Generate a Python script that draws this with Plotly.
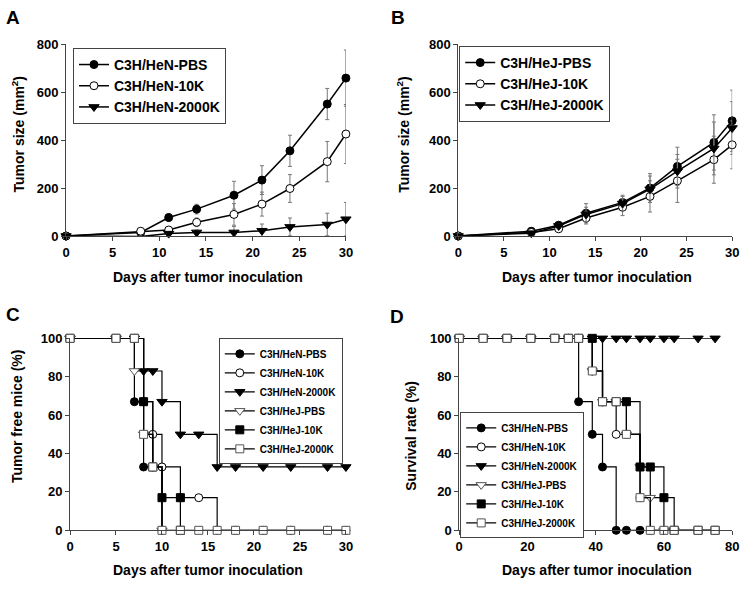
import plotly.graph_objects as go

# ---------------- Data ----------------
# Panel A (C3H/HeN tumor growth)
days_A = [0, 8, 11, 14, 18, 21, 24, 28, 30]
hen_pbs = [0, 15, 77, 112, 170, 233, 355, 550, 658]
hen_pbs_err = [0, 5, 15, 20, 58, 60, 65, 65, 117]
hen_10k = [0, 20, 25, 57, 90, 133, 198, 310, 425]
hen_10k_err = [0, 5, 10, 18, 45, 50, 58, 84, 123]
hen_2000k = [0, -2, 10, 15, 15, 22, 38, 48, 70]
hen_2000k_err = [0, 3, 8, 10, 25, 28, 37, 47, 70]

# Panel B (C3H/HeJ tumor growth)
days_B = [0, 8, 11, 14, 18, 21, 24, 28, 30]
hej_pbs = [0, 20, 45, 95, 140, 200, 290, 390, 480]
hej_pbs_err = [0, 5, 10, 40, 30, 60, 80, 115, 128]
hej_10k = [0, 15, 30, 75, 120, 165, 230, 318, 380]
hej_10k_err = [0, 5, 10, 25, 35, 65, 90, 98, 100]
hej_2000k = [0, 12, 42, 90, 135, 195, 270, 365, 450]
hej_2000k_err = [0, 5, 10, 30, 30, 55, 70, 110, 110]

# Panel C (tumor free mice, %)
c_hen_pbs_x = [0, 5, 7, 8, 10]
c_hen_pbs_y = [100, 100, 67, 33, 0]
c_hen_10k_x = [0, 5, 7, 8, 9, 10, 12, 14, 16, 18, 21, 24, 28, 30]
c_hen_10k_y = [100, 100, 100, 67, 50, 33, 17, 17, 0, 0, 0, 0, 0, 0]
c_hen_2000k_x = [0, 5, 7, 8, 9, 10, 12, 14, 16, 18, 21, 24, 28, 30]
c_hen_2000k_y = [100, 100, 100, 83, 83, 67, 50, 50, 33, 33, 33, 33, 33, 33]
c_hej_pbs_x = [0, 5, 7, 8, 9, 10]
c_hej_pbs_y = [100, 100, 83, 50, 33, 0]
c_hej_10k_x = [0, 5, 7, 8, 9, 10, 12, 12]
c_hej_10k_y = [100, 100, 100, 67, 33, 17, 17, 0]
c_hej_2000k_x = [0, 5, 7, 8, 9, 10, 12, 14, 16, 18, 21, 24, 28, 30]
c_hej_2000k_y = [100, 100, 100, 50, 33, 0, 0, 0, 0, 0, 0, 0, 0, 0]

# Panel D (survival rate, %)
d_days = [0, 7, 14, 21, 28, 32, 35, 39, 42, 46, 49, 53, 56, 60, 63, 70, 75]
d_hen_pbs_x = [0, 7, 14, 21, 28, 32, 35, 39, 42, 46, 49, 53]
d_hen_pbs_y = [100, 100, 100, 100, 100, 100, 67, 50, 33, 0, 0, 0]
d_hen_10k_y = [100, 100, 100, 100, 100, 100, 100, 83, 67, 50, 50, 17, 0, 0, 0, 0, 0]
d_hen_2000k_y = [100] * 17
d_hej_pbs_x = [0, 7, 14, 21, 28, 32, 35, 39, 42, 46, 49, 53, 56, 60, 63]
d_hej_pbs_y = [100, 100, 100, 100, 100, 100, 100, 83, 67, 67, 50, 33, 17, 0, 0]
d_hej_10k_y = [100, 100, 100, 100, 100, 100, 100, 100, 67, 67, 67, 33, 33, 17, 0, 0, 0]
d_hej_2000k_y = [100, 100, 100, 100, 100, 100, 100, 83, 67, 67, 50, 17, 0, 0, 0, 0, 0]

names_A = ["C3H/HeN-PBS", "C3H/HeN-10K", "C3H/HeN-2000K"]
names_B = ["C3H/HeJ-PBS", "C3H/HeJ-10K", "C3H/HeJ-2000K"]
names_CD = names_A + names_B

# ---------------- Styles ----------------
FONT = "Liberation Sans, Arial, sans-serif"
AX = "#444444"
sym_fill_circle = dict(symbol="circle", color="black", size=8, line=dict(color="black", width=1))
sym_open_circle = dict(symbol="circle", color="white", size=8, line=dict(color="black", width=1))
sym_fill_tri = dict(symbol="triangle-down", color="black", size=9, line=dict(color="black", width=1))
sym_open_tri = dict(symbol="triangle-down", color="white", size=9, line=dict(color="#555", width=1))
sym_fill_sq = dict(symbol="square", color="black", size=8, line=dict(color="black", width=1))
sym_open_sq = dict(symbol="square", color="white", size=8, line=dict(color="#555", width=1))

fig = go.Figure()


def growth(x, y, err, name, marker, xa, ya, lg):
    fig.add_trace(go.Scatter(
        x=x, y=y, name=name, mode="lines+markers", xaxis=xa, yaxis=ya, legend=lg,
        line=dict(color="black", width=1.5), marker=marker, cliponaxis=False,
        error_y=dict(type="data", array=err, visible=True, color="#777777", thickness=1, width=2),
    ))


growth(days_A, hen_pbs, hen_pbs_err, names_A[0], sym_fill_circle, "x", "y", "legend")
growth(days_A, hen_10k, hen_10k_err, names_A[1], sym_open_circle, "x", "y", "legend")
growth(days_A, hen_2000k, hen_2000k_err, names_A[2], sym_fill_tri, "x", "y", "legend")

growth(days_B, hej_pbs, hej_pbs_err, names_B[0], sym_fill_circle, "x2", "y2", "legend2")
growth(days_B, hej_10k, hej_10k_err, names_B[1], sym_open_circle, "x2", "y2", "legend2")
growth(days_B, hej_2000k, hej_2000k_err, names_B[2], sym_fill_tri, "x2", "y2", "legend2")


def step(x, y, name, marker, xa, ya, lg):
    fig.add_trace(go.Scatter(
        x=x, y=y, name=name, mode="lines+markers", xaxis=xa, yaxis=ya, legend=lg,
        line=dict(color="black", width=1.2, shape="hv"), marker=marker, cliponaxis=False,
    ))


markers6 = [sym_fill_circle, sym_open_circle, sym_fill_tri, sym_open_tri, sym_fill_sq, sym_open_sq]
c_series = [(c_hen_pbs_x, c_hen_pbs_y), (c_hen_10k_x, c_hen_10k_y), (c_hen_2000k_x, c_hen_2000k_y),
            (c_hej_pbs_x, c_hej_pbs_y), (c_hej_10k_x, c_hej_10k_y), (c_hej_2000k_x, c_hej_2000k_y)]
for (sx, sy), nm, mk in zip(c_series, names_CD, markers6):
    step(sx, sy, nm, mk, "x3", "y3", "legend3")

d_series = [(d_hen_pbs_x, d_hen_pbs_y), (d_days, d_hen_10k_y), (d_days, d_hen_2000k_y),
            (d_hej_pbs_x, d_hej_pbs_y), (d_days, d_hej_10k_y), (d_days, d_hej_2000k_y)]
for (sx, sy), nm, mk in zip(d_series, names_CD, markers6):
    step(sx, sy, nm, mk, "x4", "y4", "legend4")

# ---------------- Layout ----------------
W, H = 750, 589


def px_x(p):
    return p / W


def px_y(p):
    return (H - p) / H


tickfont = dict(family=FONT, size=13, color="black", weight="bold")


def axis(domain, rng, dtick, anchor):
    return dict(domain=domain, range=rng, dtick=dtick, anchor=anchor, showline=True,
                linecolor=AX, linewidth=1, ticks="outside", ticklen=4, tickcolor=AX,
                showgrid=False, zeroline=False, tickfont=tickfont, fixedrange=True)


top_dom = [px_y(235), px_y(38)]
bot_dom = [px_y(537), px_y(340)]

legfont_big = dict(family=FONT, size=14, color="black", weight="bold")
legfont_small = dict(family=FONT, size=10, color="black", weight="bold")


def legend(x, y, font):
    return dict(x=px_x(x), y=px_y(y), xanchor="left", yanchor="top", bgcolor="white",
                bordercolor=AX, borderwidth=1, font=font, tracegroupgap=0,
                itemclick=False, itemdoubleclick=False)


fig.update_layout(
    width=W, height=H, margin=dict(l=0, r=0, t=0, b=0),
    paper_bgcolor="white", plot_bgcolor="white",
    font=dict(family=FONT, color="black"),
    xaxis=axis([px_x(63), px_x(347)], [0, 30], 5, "y"),
    yaxis=axis(top_dom, [0, 800], 200, "x"),
    xaxis2=axis([px_x(461), px_x(739)], [0, 30], 5, "y2"),
    yaxis2=axis(top_dom, [0, 800], 200, "x2"),
    xaxis3=axis([px_x(67), px_x(347)], [0, 30], 5, "y3"),
    yaxis3=axis(bot_dom, [0, 100], 20, "x3"),
    xaxis4=axis([px_x(462), px_x(739)], [0, 80], 20, "y4"),
    yaxis4=axis(bot_dom, [0, 100], 20, "x4"),
    legend=legend(70, 42, legfont_big),
    legend2=legend(462, 40, legfont_big),
    legend3=legend(218, 340, legfont_small),
    legend4=legend(463, 416, legfont_small),
    showlegend=True,
)

titlefont = dict(family=FONT, size=14, color="black", weight="bold")
letterfont = dict(family=FONT, size=19, color="black", weight="bold")
ann = []


def text(x, y, s, font, angle=0):
    ann.append(dict(x=px_x(x), y=px_y(y), xref="paper", yref="paper", text=s, showarrow=False,
                    font=font, textangle=angle, xanchor="center", yanchor="middle"))


text(207, 277, "Days after tumor inoculation", titlefont)
text(602, 277, "Days after tumor inoculation", titlefont)
text(207, 578, "Days after tumor inoculation", titlefont)
text(602, 578, "Days after tumor inoculation", titlefont)
text(14, 131, "Tumor size (mm<sup>2</sup>)", titlefont, -90)
text(405, 131, "Tumor size (mm<sup>2</sup>)", titlefont, -90)
text(13, 420, "Tumor free mice (%)", titlefont, -90)
text(413, 440, "Survival rate (%)", titlefont, -90)
text(9, 11, "A", letterfont)
text(400, 11, "B", letterfont)
text(9, 316, "C", letterfont)
text(399, 318, "D", letterfont)
fig.update_layout(annotations=ann)

fig.write_html(
    "out.html",
    config={"displayModeBar": False},
    post_script="document.body.style.margin='0';document.body.style.overflow='hidden';",
)
